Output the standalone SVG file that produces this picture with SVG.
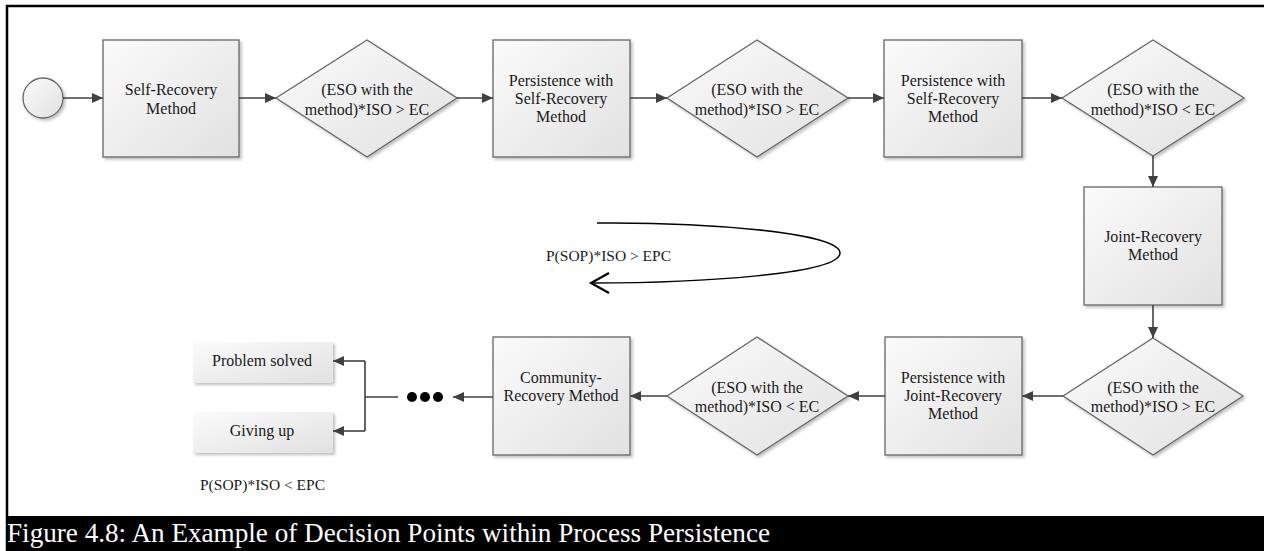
<svg xmlns="http://www.w3.org/2000/svg" width="1264" height="551" viewBox="0 0 1264 551">
  <defs>
    <linearGradient id="fillGrad" x1="0" y1="0" x2="1" y2="1">
      <stop offset="0" stop-color="#fbfbfb"/>
      <stop offset="1" stop-color="#e1e1e1"/>
    </linearGradient>
    <filter id="shadow" x="-10%" y="-10%" width="130%" height="130%">
      <feDropShadow dx="2" dy="2" stdDeviation="1.5" flood-color="#000" flood-opacity="0.25"/>
    </filter>
    <marker id="arrow" markerUnits="userSpaceOnUse" markerWidth="12" markerHeight="10" refX="11" refY="5" orient="auto">
      <path d="M0,0 L11,5 L0,10 Z" fill="#404040"/>
    </marker>
    <style>
      .shape { fill: url(#fillGrad); stroke: #666; stroke-width: 1.3; filter: url(#shadow); }
      .plain { fill: url(#fillGrad); stroke: none; filter: url(#shadow); }
      .lbl { font-family: "Liberation Serif", "Times New Roman", serif; font-size: 16px; fill: #1a1a1a; text-anchor: middle; }
      .note { font-family: "Liberation Serif", "Times New Roman", serif; font-size: 15.5px; fill: #1a1a1a; }
      .conn { fill: none; stroke: #404040; stroke-width: 1.6; }
      .conn-arrow { fill: none; stroke: #404040; stroke-width: 1.6; marker-end: url(#arrow); }
    </style>
  </defs>

  <rect width="1264" height="551" fill="#fff"/>

  <!-- frame -->
  <path d="M7,551 V6 H1264" fill="none" stroke="#000" stroke-width="2.5"/>

  <!-- start event -->
  <g id="start">
    <circle cx="43" cy="98" r="20" class="shape"/>
  </g>

  <!-- top row -->
  <g id="self-recovery">
    <rect x="103" y="40" width="136" height="117" class="shape"/>
    <text class="lbl" x="171" y="95">Self-Recovery</text>
    <text class="lbl" x="171" y="114">Method</text>
  </g>
  <g id="decision-1">
    <polygon points="276,98 367,40 457,98 367,157" class="shape"/>
    <text class="lbl" x="367" y="95">(ESO with the</text>
    <text class="lbl" x="367" y="115">method)*ISO &gt; EC</text>
  </g>
  <g id="persist-self-1">
    <rect x="493" y="40" width="137" height="117" class="shape"/>
    <text class="lbl" x="561" y="86">Persistence with</text>
    <text class="lbl" x="561" y="104">Self-Recovery</text>
    <text class="lbl" x="561" y="122">Method</text>
  </g>
  <g id="decision-2">
    <polygon points="667,98 757,40 848,98 757,157" class="shape"/>
    <text class="lbl" x="757" y="95">(ESO with the</text>
    <text class="lbl" x="757" y="115">method)*ISO &gt; EC</text>
  </g>
  <g id="persist-self-2">
    <rect x="884" y="40" width="138" height="117" class="shape"/>
    <text class="lbl" x="953" y="86">Persistence with</text>
    <text class="lbl" x="953" y="104">Self-Recovery</text>
    <text class="lbl" x="953" y="122">Method</text>
  </g>
  <g id="decision-3">
    <polygon points="1062,98 1153,40 1244,98 1153,156" class="shape"/>
    <text class="lbl" x="1153" y="95">(ESO with the</text>
    <text class="lbl" x="1153" y="115">method)*ISO &lt; EC</text>
  </g>

  <!-- right column -->
  <g id="joint-recovery">
    <rect x="1084" y="187" width="138" height="118" class="shape"/>
    <text class="lbl" x="1153" y="242">Joint-Recovery</text>
    <text class="lbl" x="1153" y="260">Method</text>
  </g>
  <g id="decision-4">
    <polygon points="1063,396 1153,338 1243,396 1153,455" class="shape"/>
    <text class="lbl" x="1153" y="393">(ESO with the</text>
    <text class="lbl" x="1153" y="412">method)*ISO &gt; EC</text>
  </g>

  <!-- bottom row -->
  <g id="persist-joint">
    <rect x="885" y="337" width="137" height="118" class="shape"/>
    <text class="lbl" x="953" y="383">Persistence with</text>
    <text class="lbl" x="953" y="401">Joint-Recovery</text>
    <text class="lbl" x="953" y="419">Method</text>
  </g>
  <g id="decision-5">
    <polygon points="667,396 757,337 848,396 757,455" class="shape"/>
    <text class="lbl" x="757" y="393">(ESO with the</text>
    <text class="lbl" x="757" y="412">method)*ISO &lt; EC</text>
  </g>
  <g id="community-recovery">
    <rect x="493" y="337" width="137" height="118" class="shape"/>
    <text class="lbl" x="561" y="383">Community-</text>
    <text class="lbl" x="561" y="401">Recovery Method</text>
  </g>
  <g id="ellipsis">
    <circle cx="412" cy="397" r="5" fill="#000"/>
    <circle cx="425" cy="397" r="5" fill="#000"/>
    <circle cx="438" cy="397" r="5" fill="#000"/>
  </g>
  <g id="problem-solved">
    <rect x="193" y="342" width="140" height="41" class="plain"/>
    <text class="lbl" x="262" y="366">Problem solved</text>
  </g>
  <g id="giving-up">
    <rect x="193" y="412" width="140" height="41" class="plain"/>
    <text class="lbl" x="262" y="436">Giving up</text>
  </g>

  <!-- connectors -->
  <g id="connectors">
    <line x1="63" y1="98" x2="103" y2="98" class="conn-arrow"/>
    <line x1="239" y1="98" x2="276" y2="98" class="conn-arrow"/>
    <line x1="457" y1="98" x2="493" y2="98" class="conn-arrow"/>
    <line x1="630" y1="98" x2="667" y2="98" class="conn-arrow"/>
    <line x1="848" y1="98" x2="884" y2="98" class="conn-arrow"/>
    <line x1="1022" y1="98" x2="1062" y2="98" class="conn-arrow"/>
    <line x1="1153" y1="156" x2="1153" y2="187" class="conn-arrow"/>
    <line x1="1153" y1="305" x2="1153" y2="338" class="conn-arrow"/>
    <line x1="1063" y1="396" x2="1022" y2="396" class="conn-arrow"/>
    <line x1="885" y1="396" x2="848" y2="396" class="conn-arrow"/>
    <line x1="667" y1="396" x2="630" y2="396" class="conn-arrow"/>
    <line x1="493" y1="397" x2="453" y2="397" class="conn-arrow"/>
    <path d="M398,397 H365 M365,361 V431" class="conn"/>
    <line x1="365" y1="361" x2="333" y2="361" class="conn-arrow"/>
    <line x1="365" y1="431" x2="333" y2="431" class="conn-arrow"/>

    <!-- loop-back curve -->
    <path d="M597,223 C700,222 840,232 840,253 C840,274 700,283 592,283" fill="none" stroke="#000" stroke-width="1.5"/>
    <polyline points="609,273 591,283 609,293" fill="none" stroke="#000" stroke-width="2.2"/>
  </g>

  <text class="note" x="546" y="261">P(SOP)*ISO &gt; EPC</text>
  <text class="note" x="200" y="490">P(SOP)*ISO &lt; EPC</text>

  <!-- caption band -->
  <rect x="6" y="516" width="1258" height="35" fill="#000"/>
  <text x="7" y="542" font-family="Liberation Serif, Times New Roman, serif" font-size="27" fill="#fff" textLength="763" lengthAdjust="spacingAndGlyphs">Figure 4.8: An Example of Decision Points within Process Persistence</text>
</svg>
